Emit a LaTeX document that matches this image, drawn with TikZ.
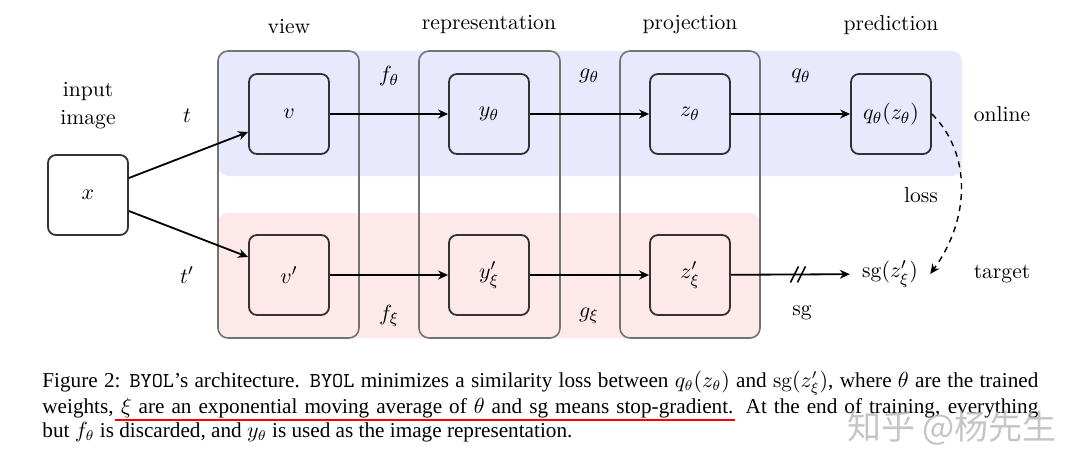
\documentclass[tikz,border=0pt]{standalone}
\usepackage{fontspec}
\usepackage{amsmath}
\newfontfamily\capfont{Liberation Serif}
\newfontfamily\wmfont{Noto Sans CJK SC}
\usetikzlibrary{arrows.meta,calc}
\definecolor{onlinefill}{RGB}{232,233,252}
\definecolor{targetfill}{RGB}{253,233,233}
\newcommand{\diagfont}{\fontsize{10.8}{13}\selectfont}
\newcommand{\capsize}{\fontsize{10.6}{12}\selectfont}
\tikzset{
  stage/.style={draw=black!80, line width=0.9pt, rounded corners=4pt,
    minimum width=40pt, minimum height=40pt, inner sep=0pt, font=\diagfont},
  column/.style={draw=black!55, line width=0.8pt, rounded corners=5pt},
  onlineband/.style={fill=onlinefill, rounded corners=5pt},
  targetband/.style={fill=targetfill, rounded corners=5pt},
  label/.style={black, font=\diagfont},
  flow/.style={-{Stealth[length=5pt,width=4.5pt]}, line width=0.9pt},
  lossflow/.style={-{Stealth[length=5pt,width=4.5pt]}, line width=0.7pt,
    dash pattern=on 3pt off 2.5pt},
  cut/.style={line width=0.8pt},
  caption/.style={anchor=base west, inner sep=0pt, font=\capfont\capsize},
  underline/.style={draw=red, line width=1.4pt}
}

\begin{document}
\begin{tikzpicture}[x=0.5pt,y=-0.5pt]
  \useasboundingbox (0,0) rectangle (1080,460);
  % online and target bands
  \fill[onlineband] (218,51) rectangle (962,176);
  \fill[targetband] (218,213) rectangle (760,338);
  \draw[column] (218,51) rectangle (359,338);
  \draw[column] (419,51) rectangle (560,338);
  \draw[column] (620,51) rectangle (760,338);
  % headings
  \node[label] at (289,27) {view};
  \node[label] at (489,25) {representation};
  \node[label] at (690,25) {projection};
  \node[label] at (891,25) {prediction};
  \node[label, align=center] at (88,106) {input\\[1pt]image};
  % stages
  \node[stage] (x) at (88,195) {$x$};
  \node[stage] (v) at (289,114) {$v$};
  \node[stage] (y) at (489,114) {$y_\theta$};
  \node[stage] (z) at (690,114) {$z_\theta$};
  \node[stage] (q) at (891,114) {$q_\theta(z_\theta)$};
  \node[stage] (vp) at (289,275) {$v'$};
  \node[stage] (yp) at (489,275) {$y'_\xi$};
  \node[stage] (zp) at (690,275) {$z'_\xi$};
  \node[label, inner sep=6pt] (sg) at (890,274) {$\mathrm{sg}(z'_\xi)$};
  % connectors
  \draw[flow] ([yshift=8.5pt]x.east) -- ([yshift=-9pt]v.west);
  \draw[flow] ([yshift=-8pt]x.east) -- ([yshift=9pt]vp.west);
  \draw[flow] (v) -- (y);
  \draw[flow] (y) -- (z);
  \draw[flow] (z) -- (q);
  \draw[flow] (vp) -- (yp);
  \draw[flow] (yp) -- (zp);
  \draw[flow] (zp) -- coordinate[pos=0.56] (cutmark) (sg);
  \draw[cut] ($(cutmark)+(-7,8)$) -- ($(cutmark)+(1,-8)$);
  \draw[cut] ($(cutmark)+(0,8)$) -- ($(cutmark)+(8,-8)$);
  \draw[lossflow] (q.east) .. controls +(40,40) and +(40,-55) .. (sg.east);
  % edge labels
  \node[label] at (187,116) {$t$};
  \node[label] at (187,275) {$t'$};
  \node[label] at (389,76) {$f_\theta$};
  \node[label] at (589,76) {$g_\theta$};
  \node[label] at (801,76) {$q_\theta$};
  \node[label] at (389,316) {$f_\xi$};
  \node[label] at (589,316) {$g_\xi$};
  \node[label] at (802,313) {sg};
  \node[label] at (921,195) {loss};
  \node[label] at (1002,114) {online};
  \node[label] at (1002,274) {target};
  % caption
  \node[caption] (cap1) at (42,387) {\makebox[498pt][s]{Figure 2: \texttt{BYOL}’s architecture. \texttt{BYOL} minimizes a similarity loss between $q_\theta(z_\theta)$ and $\mathrm{sg}(z'_\xi)$, where $\theta$ are the trained}};
  \node[caption] (cap2) at (42,413) {\makebox[498pt][s]{weights, $\xi$ are an exponential moving average of $\theta$ and sg means stop-gradient. At the end of training, everything}};
  \node[caption] (cap3) at (42,437) {but $f_\theta$ is discarded, and $y_\theta$ is used as the image representation.};
  \draw[underline] (115,420) -- (735,420);
  \node[text=black!30, opacity=0.75, font=\wmfont\fontsize{17}{17}\selectfont] (mark) at (952,428) {知乎 @杨先生};
\end{tikzpicture}
\end{document}
